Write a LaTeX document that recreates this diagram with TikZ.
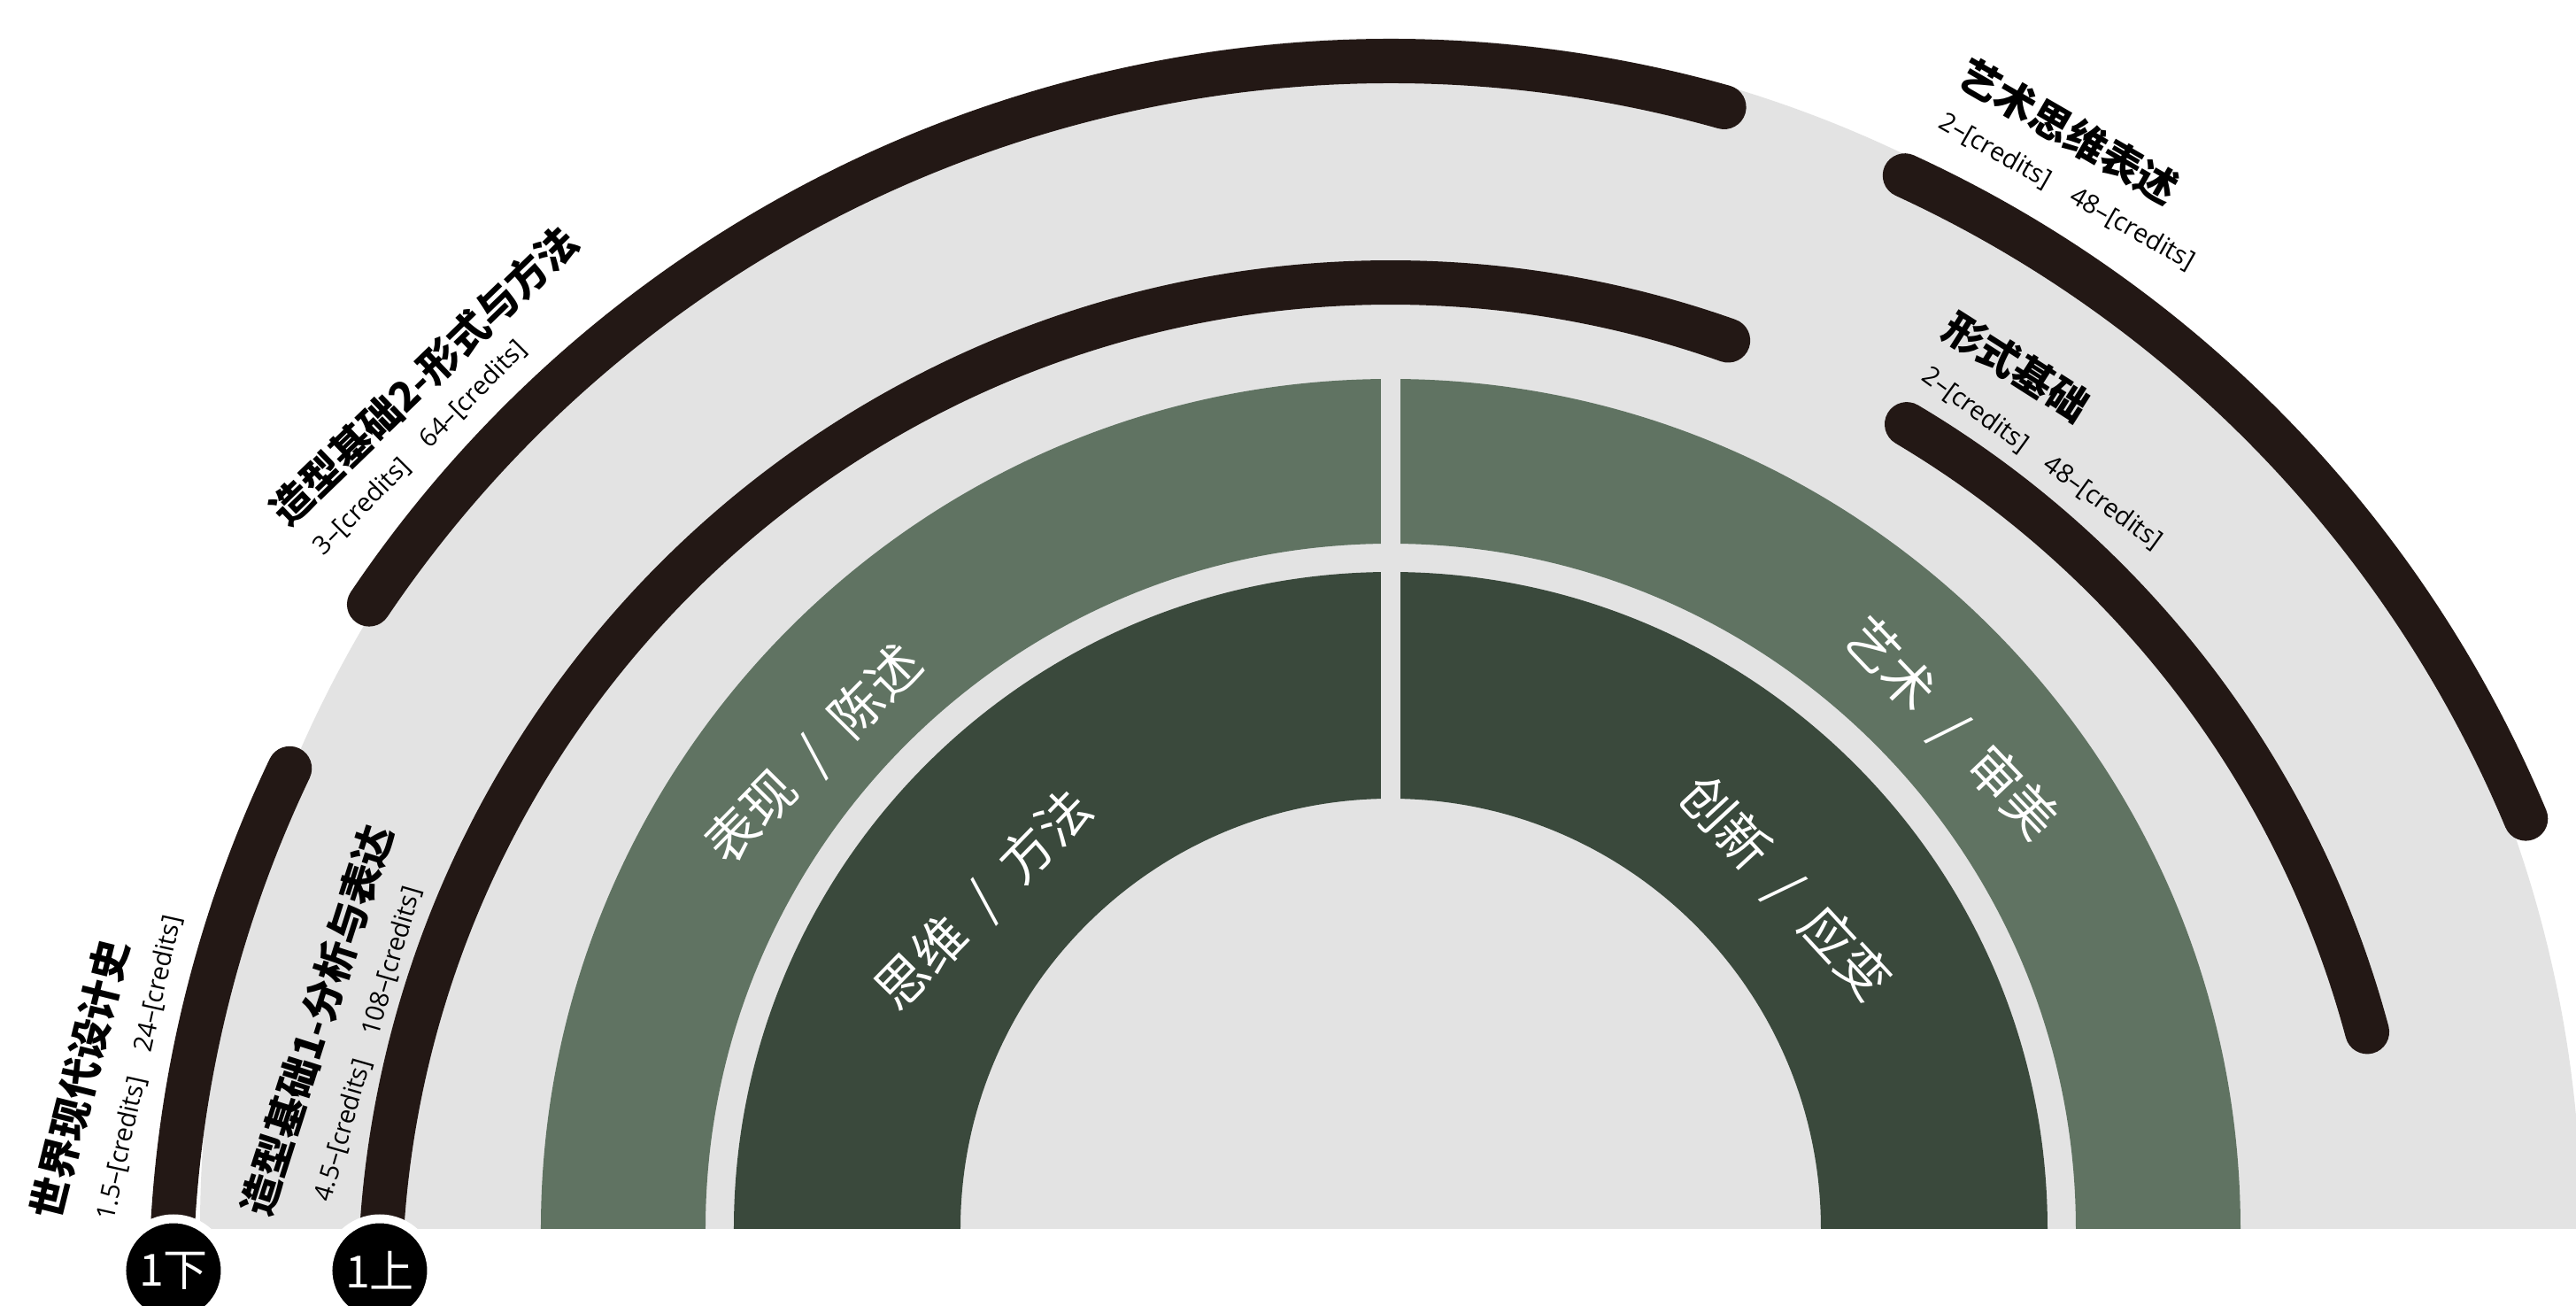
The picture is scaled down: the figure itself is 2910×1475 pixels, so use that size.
\documentclass[tikz,border=0pt]{standalone}
\usepackage{fontspec}
\newfontfamily\cjk{Noto Sans CJK SC}
\newfontfamily\latin{Open Sans}
\definecolor{paper}{HTML}{E3E3E3}
\definecolor{sage}{HTML}{607362}
\definecolor{moss}{HTML}{3A493C}
\definecolor{ink}{HTML}{231815}
\newcommand{\duo}[2]{#1\hspace{0.5em}/\hspace{0.5em}#2}

\begin{document}
\begin{tikzpicture}[x=1pt,y=1pt,
  track/.style={line width=50, ink, line cap=round},
  course/.style={inner sep=0, font=\cjk\bfseries\fontsize{46}{46}\selectfont},
  credit/.style={inner sep=0, font=\latin\fontsize{29}{29}\selectfont},
  ringtext/.style={inner sep=0, text=white, font=\cjk\fontsize{59}{59}\selectfont},
  term/.style={circle, fill=black, draw=white, line width=10, minimum size=117, inner sep=0, text=white, font=\cjk\fontsize{50}{50}\selectfont}]

\clip (-1571,-87) rectangle (1339,1388);
\fill[white] (-1571,-87) rectangle (1339,1388);

\fill[paper] (1345,0) arc[start angle=0,end angle=180,radius=1345] -- cycle;

\fill[sage] (960,0) arc[start angle=0,end angle=180,radius=960] -- (-774,0) arc[start angle=180,end angle=0,radius=774] -- cycle;
\fill[moss] (742,0) arc[start angle=0,end angle=180,radius=742] -- (-486,0) arc[start angle=180,end angle=0,radius=486] -- cycle;
\fill[paper] (-11,0) rectangle (11,965);

\node[ringtext, rotate=45.3] (expr) at (-651,535) {\duo{表现}{陈述}};
\node[ringtext, rotate=45.6] (mind) at (-459,371) {\duo{思维}{方法}};
\node[ringtext, rotate=-46.4] (arts) at (632,564) {\duo{艺术}{审美}};
\node[ringtext, rotate=-47.3] (novo) at (445,384) {\duo{创新}{应变}};

\begin{scope}[shift={(0,-73)}]
\draw[track] (178:1378) arc[start angle=178,end angle=154.5,radius=1378];
\draw[track] (146:1392) arc[start angle=146,end angle=74.3,radius=1392];
\draw[track] (65.3:1390) arc[start angle=65.3,end angle=22.7,radius=1390];
\draw[track] (177:1142) arc[start angle=177,end angle=70.5,radius=1142];
\draw[track] (59.3:1142) arc[start angle=59.3,end angle=15,radius=1142];
\end{scope}

\node[term] (down) at (-1375,-47) {1下};
\node[term] (up) at (-1142,-47) {1上};

\node[course, rotate=76] (hist) at (-1481,169) {世界现代设计史};
\node[credit, rotate=77.5] (histc) at (-1413,182) {1.5–[credits]\quad24–[credits]};

\node[course, rotate=72.3] (form1) at (-1213,236) {造型基础1-分析与表达};
\node[credit, rotate=73.9] (form1c) at (-1155,209) {4.5–[credits]\quad108–[credits]};

\node[course, rotate=44] (form2) at (-1092,964) {造型基础2-形式与方法};
\node[credit, rotate=45.2] (form2c) at (-1096,882) {3–[credits]\quad64–[credits]};

\node[course, rotate=-30] (think) at (766,1240) {艺术思维表述};
\node[credit, rotate=-29.7] (thinkc) at (764,1171) {2–[credits]\quad48–[credits]};

\node[course, rotate=-32.5] (basic) at (707,974) {形式基础};
\node[credit, rotate=-36] (basicc) at (736,870) {2–[credits]\quad48–[credits]};

\end{tikzpicture}
\end{document}
